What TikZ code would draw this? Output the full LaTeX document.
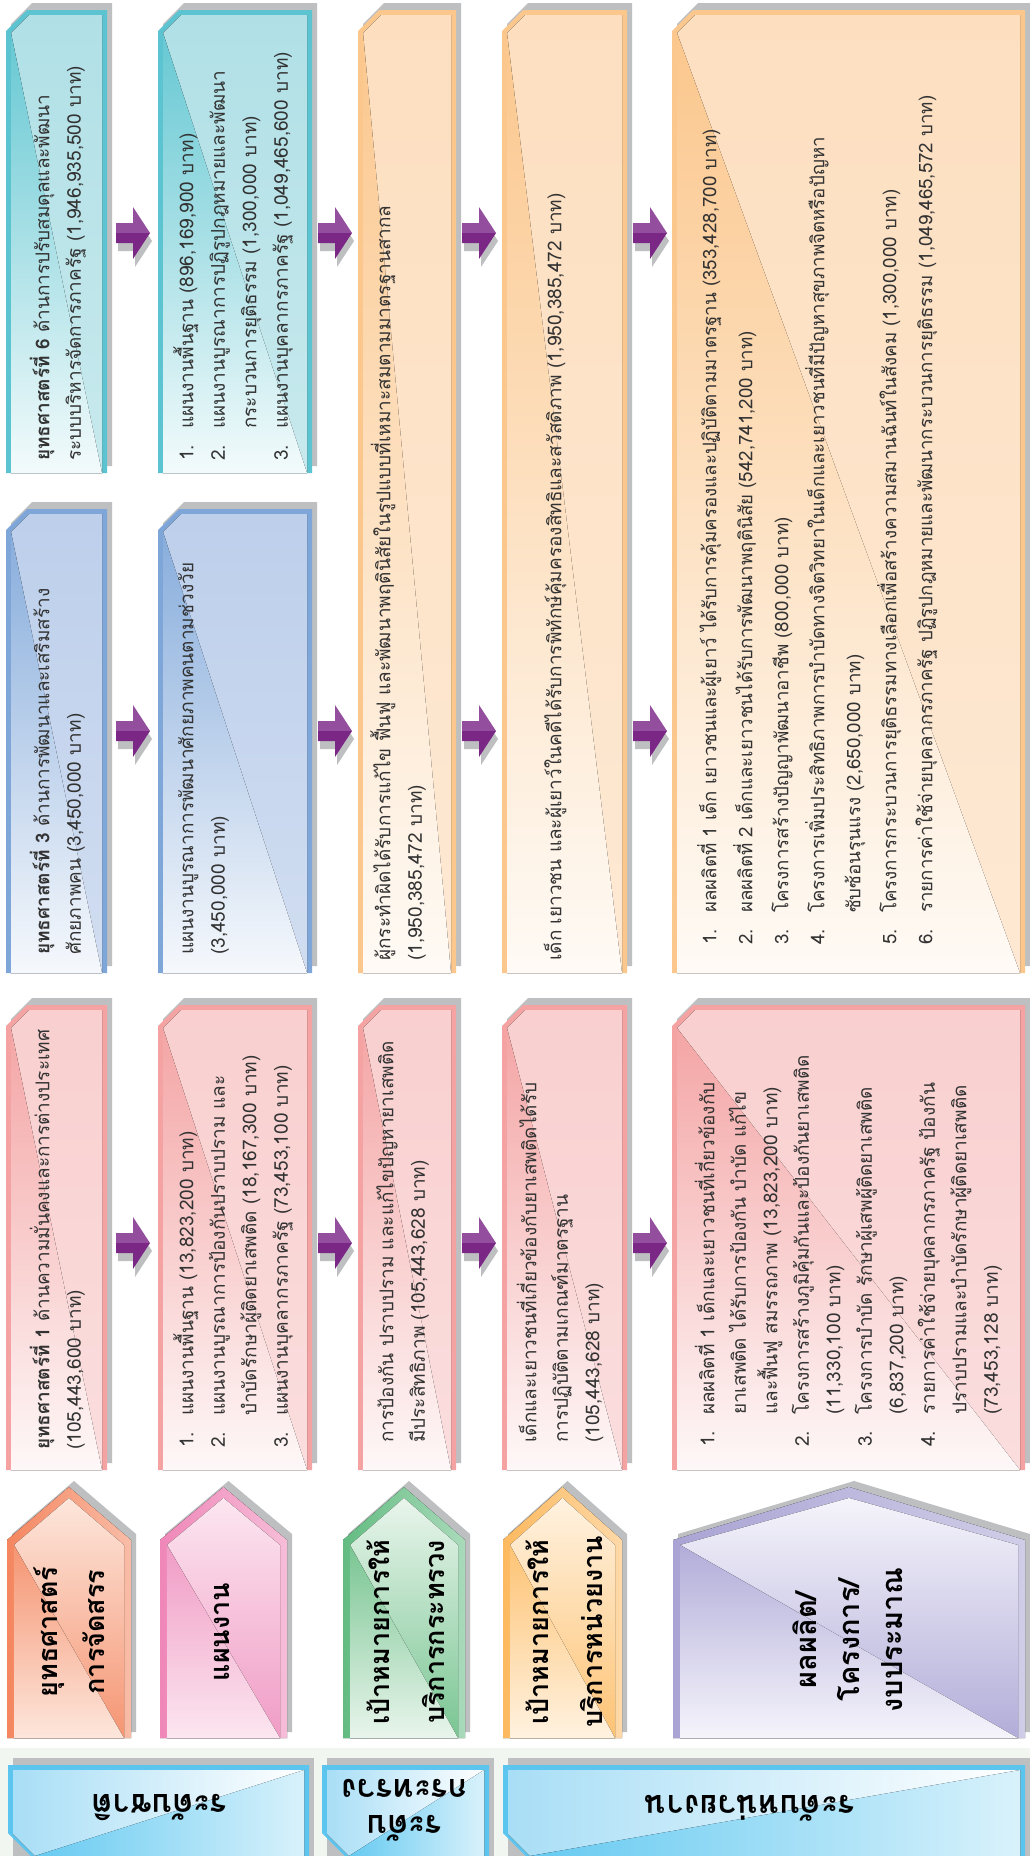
\documentclass[tikz,border=0pt]{standalone}
\usepackage{fontspec}
\newfontfamily\thai[Script=Thai]{Loma}
\definecolor{shd}{HTML}{BDBFC1}
\definecolor{txc}{HTML}{333333}
\definecolor{tealB}{HTML}{5CC4D0}
\definecolor{tealL}{HTML}{B0E0E6}
\definecolor{tealD}{HTML}{66C8D3}
\definecolor{blueB}{HTML}{7FA6D9}
\definecolor{blueL}{HTML}{BDCFEB}
\definecolor{blueD}{HTML}{88ADDC}
\definecolor{oraB}{HTML}{FBC78D}
\definecolor{oraL}{HTML}{FDDFC0}
\definecolor{oraD}{HTML}{FBC78D}
\definecolor{pinkB}{HTML}{F4A2A2}
\definecolor{pinkL}{HTML}{F9CFCF}
\definecolor{pinkD}{HTML}{F4A5A5}
\definecolor{arL}{HTML}{944E9E}
\definecolor{arD}{HTML}{7A2785}
\definecolor{lvB}{HTML}{5BC5EF}
\definecolor{lvL}{HTML}{A8DEF6}
\definecolor{lvD}{HTML}{66CAF1}
\definecolor{bgl}{HTML}{F2F6F1}
\definecolor{lAB}{HTML}{F4865F}\definecolor{lAL}{HTML}{FDE6DC}\definecolor{lAD}{HTML}{F59572}
\definecolor{lBB}{HTML}{EF87B8}\definecolor{lBL}{HTML}{FCE6F0}\definecolor{lBD}{HTML}{F09CC5}
\definecolor{lCB}{HTML}{63BC82}\definecolor{lCL}{HTML}{E9F5EC}\definecolor{lCD}{HTML}{79C592}
\definecolor{lDB}{HTML}{FDB95F}\definecolor{lDL}{HTML}{FFF2E0}\definecolor{lDD}{HTML}{FDC374}
\definecolor{lEB}{HTML}{A9A4D4}\definecolor{lEL}{HTML}{F5F4FB}\definecolor{lED}{HTML}{B2ADD9}

% content box: x0 x1 y0 y1 border light dark
\newcommand{\cbx}[7]{%
  \fill[shd] ({#1+5},{#3+14}) -- ({#1+26},{#3-7}) -- ({#2+5},{#3-7}) -- ({#2+5},{#4-7}) -- ({#1+5},{#4-7}) -- cycle;
  \fill[#5] (#1,{#3+21}) -- ({#1+21},#3) -- (#2,#3) -- (#2,#4) -- (#1,#4) -- cycle;
  \fill[top color=#6, bottom color=#6!70!white] ({#1+5},{#3+23}) -- ({#1+23},{#3+5}) -- ({#2-5},{#3+5}) -- ({#2-5},#4) -- ({#1+5},#4) -- cycle;
  \fill[top color=#7, bottom color=#7!8!white] ({#1+5},{#3+23}) -- ({#2-5},#4) -- ({#1+5},#4) -- cycle;
}
% left label pentagon: x0 x1 border light dark
\newcommand{\lbx}[5]{%
  \fill[shd] ({#1+5},1534) -- ({(#1+#2)/2+5},1481) -- ({#2+5},1534) -- ({#2+5},1732) -- ({#1+5},1732) -- cycle;
  \fill[left color=#3, right color=#3!55!white] (#1,1540) -- ({(#1+#2)/2},1487) -- (#2,1540) -- (#2,1738) -- (#1,1738) -- cycle;
  \fill[top color=#4, bottom color=#5] ({#1+7},1545) -- ({(#1+#2)/2},1498) -- ({#2-7},1545) -- ({#2-7},1738) -- ({#1+7},1738) -- cycle;
  \fill[top color=#5, bottom color=#4] ({#1+7},1545) -- ({#2-7},1738) -- ({#1+7},1738) -- cycle;
}
% level label: x0 x1
\newcommand{\lvx}[2]{%
  \fill[shd] ({#1+5},1758) -- ({#2+5},1758) -- ({#2+5},1856) -- ({#1+5},1856) -- cycle;
  \fill[lvB] (#1,1765) -- (#2,1765) -- (#2,1856) -- ({#1+23},1856) -- (#1,1833) -- cycle;
  \fill[left color=lvL, right color=white] ({#1+5},1770) -- ({#2-5},1770) -- ({#2-5},1856) -- ({#1+27},1856) -- ({#1+5},1834) -- cycle;
  \fill[left color=lvD, right color=lvD!25!white] ({#1+27},1856) -- ({#2-5},1770) -- ({#2-5},1856) -- cycle;
}
% arrow: x-left y-center
\newcommand{\arx}[2]{%
  \fill[shd] ({#1+2},{#2-2}) -- ({#1+19},{#2-2}) -- ({#1+19},{#2-18}) -- ({#1+36},{#2+8}) -- ({#1+19},{#2+34}) -- ({#1+19},{#2+18}) -- ({#1+2},{#2+18}) -- cycle;
  \fill[arL] (#1,{#2-10}) -- ({#1+17},{#2-10}) -- ({#1+17},{#2-26}) -- ({#1+34},#2) -- (#1,#2) -- cycle;
  \fill[arD] (#1,#2) -- ({#1+34},#2) -- ({#1+17},{#2+26}) -- ({#1+17},{#2+10}) -- (#1,{#2+10}) -- cycle;
}
\newcommand{\itm}[1]{\makebox[32pt][l]{#1}}
\newcommand{\itc}{\hspace*{32pt}}

\tikzset{
  tx/.style={rotate=90, anchor=north west, inner sep=0pt, text width=1000pt, align=left,
    font=\thai\fontsize{19}{31.5}\selectfont, text=txc},
  txw/.style={tx, font=\thai\fontsize{18.7}{36}\selectfont},
  lab/.style={rotate=90, anchor=center, inner sep=0pt, align=center,
    font=\thai\bfseries\fontsize{27}{47}\selectfont, text=black},
  lev/.style={rotate=180, anchor=center, inner sep=0pt, align=center,
    font=\thai\bfseries\fontsize{32}{36}\selectfont, text=black},
}

\begin{document}
\begin{tikzpicture}[x=1pt,y=-1pt]
\useasboundingbox (0,0) rectangle (1030,1856);
\fill[white] (0,0) rectangle (1030,1856);
\fill[bgl] (0,1748) rectangle (1030,1856);

% strip A
\cbx{6}{107}{10}{473}{tealB}{tealL}{tealD}
\cbx{6}{107}{509}{973}{blueB}{blueL}{blueD}
\cbx{6}{107}{1005}{1470}{pinkB}{pinkL}{pinkD}
% strip B
\cbx{158}{312}{10}{473}{tealB}{tealL}{tealD}
\cbx{158}{312}{509}{973}{blueB}{blueL}{blueD}
\cbx{158}{312}{1005}{1470}{pinkB}{pinkL}{pinkD}
% strip C
\cbx{358}{456}{10}{973}{oraB}{oraL}{oraD}
\cbx{358}{456}{1005}{1470}{pinkB}{pinkL}{pinkD}
% strip D
\cbx{502}{627}{10}{973}{oraB}{oraL}{oraD}
\cbx{502}{627}{1005}{1470}{pinkB}{pinkL}{pinkD}
% strip E
\cbx{672}{1025}{10}{973}{oraB}{oraL}{oraD}
\cbx{672}{1025}{1005}{1470}{pinkB}{pinkL}{pinkD}

% arrows
\foreach \xa in {116,318,462,633}{
  \arx{\xa}{233}
  \arx{\xa}{731}
  \arx{\xa}{1243}
}

% left labels
\lbx{7}{131}{lAB}{lAL}{lAD}
\lbx{160}{287}{lBB}{lBL}{lBD}
\lbx{343}{465}{lCB}{lCL}{lCD}
\lbx{503}{622}{lDB}{lDL}{lDD}
\lbx{673}{1025}{lEB}{lEL}{lED}

% level labels
\lvx{8}{309}
\lvx{322}{489}
\lvx{503}{1025}

% texts strip A
\node[tx] (a3) at (27,461) {\strut\textbf{ยุทธศาสตร์ที่ 6} ด้านการปรับสมดุลและพัฒนา\\ระบบบริหารจัดการภาครัฐ (1,946,935,500 บาท)};
\node[tx] (a2) at (27,955) {\strut\textbf{ยุทธศาสตร์ที่ 3} ด้านการพัฒนาและเสริมสร้าง\\ศักยภาพคน (3,450,000 บาท)};
\node[tx] (a1) at (27,1450) {\strut\textbf{ยุทธศาสตร์ที่ 1} ด้านความมั่นคงและการต่างประเทศ\\(105,443,600 บาท)};
% strip B
\node[tx] (b3) at (171,461) {\strut\itm{1.}แผนงานพื้นฐาน (896,169,900 บาท)\\\itm{2.}แผนงานบูรณาการปฏิรูปกฎหมายและพัฒนา\\\itc กระบวนการยุติธรรม (1,300,000 บาท)\\\itm{3.}แผนงานบุคลากรภาครัฐ (1,049,465,600 บาท)};
\node[tx] (b2) at (171,955) {\strut แผนงานบูรณาการพัฒนาศักยภาพคนตามช่วงวัย\\(3,450,000 บาท)};
\node[tx] (b1) at (171,1448) {\strut\itm{1.}แผนงานพื้นฐาน (13,823,200 บาท)\\\itm{2.}แผนงานบูรณาการป้องกันปราบปราม และ\\\itc บำบัดรักษาผู้ติดยาเสพติด (18,167,300 บาท)\\\itm{3.}แผนงานบุคลากรภาครัฐ (73,453,100 บาท)};
% strip C
\node[tx] (c2) at (368,961) {\strut ผู้กระทำผิดได้รับการแก้ไข ฟื้นฟู และพัฒนาพฤตินิสัยในรูปแบบที่เหมาะสมตามมาตรฐานสากล\\(1,950,385,472 บาท)};
\node[tx] (c1) at (371,1443) {\strut การป้องกัน ปราบปราม และแก้ไขปัญหายาเสพติด\\มีประสิทธิภาพ (105,443,628 บาท)};
% strip D
\node[tx] (d2) at (539,961) {\strut เด็ก เยาวชน และผู้เยาว์ในคดีได้รับการพิทักษ์คุ้มครองสิทธิและสวัสดิภาพ (1,950,385,472 บาท)};
\node[tx] (d1) at (514,1443) {\strut เด็กและเยาวชนที่เกี่ยวข้องกับยาเสพติดได้รับ\\การปฏิบัติตามเกณฑ์มาตรฐาน\\(105,443,628 บาท)};
% strip E
\node[txw] (e2) at (691,945) {\strut\itm{1.}ผลผลิตที่ 1 เด็ก เยาวชนและผู้เยาว์ ได้รับการคุ้มครองและปฏิบัติตามมาตรฐาน (353,428,700 บาท)\\
\itm{2.}ผลผลิตที่ 2 เด็กและเยาวชนได้รับการพัฒนาพฤตินิสัย (542,741,200 บาท)\\
\itm{3.}โครงการสร้างปัญญาพัฒนาอาชีพ (800,000 บาท)\\
\itm{4.}โครงการเพิ่มประสิทธิภาพการบำบัดทางจิตวิทยาในเด็กและเยาวชนที่มีปัญหาสุขภาพจิตหรือปัญหา\\
\itc ซับซ้อนรุนแรง (2,650,000 บาท)\\
\itm{5.}โครงการกระบวนการยุติธรรมทางเลือกเพื่อสร้างความสมานฉันท์ในสังคม (1,300,000 บาท)\\
\itm{6.}รายการค่าใช้จ่ายบุคลากรภาครัฐ ปฏิรูปกฎหมายและพัฒนากระบวนการยุติธรรม (1,049,465,572 บาท)};
\node[tx] (e1) at (692,1447) {\strut\itm{1.}ผลผลิตที่ 1 เด็กและเยาวชนที่เกี่ยวข้องกับ\\
\itc ยาเสพติด ได้รับการป้องกัน บำบัด แก้ไข\\
\itc และฟื้นฟู สมรรถภาพ (13,823,200 บาท)\\
\itm{2.}โครงการสร้างภูมิคุ้มกันและป้องกันยาเสพติด\\
\itc (11,330,100 บาท)\\
\itm{3.}โครงการบำบัด รักษาผู้เสพผู้ติดยาเสพติด\\
\itc (6,837,200 บาท)\\
\itm{4.}รายการค่าใช้จ่ายบุคลากรภาครัฐ ป้องกัน\\
\itc ปราบปรามและบำบัดรักษาผู้ติดยาเสพติด\\
\itc (73,453,128 บาท)};

% label texts
\node[lab] (sA) at (69,1632) {ยุทธศาสตร์\\การจัดสรร};
\node[lab] (sB) at (222,1632) {แผนงาน};
\node[lab, font=\thai\bfseries\fontsize{27}{55}\selectfont] (sC) at (406,1632) {เป้าหมายการให้\\บริการกระทรวง};
\node[lab, font=\thai\bfseries\fontsize{27}{54}\selectfont] (sD) at (564,1632) {เป้าหมายการให้\\บริการหน่วยงาน};
\node[lab, font=\thai\bfseries\fontsize{29}{43}\selectfont] (sE) at (848,1640) {ผลผลิต/\\โครงการ/\\งบประมาณ};

% level texts
\node[lev] (v1) at (160,1808) {ระดับชาติ};
\node[lev] (v2) at (405,1810) {ระดับ\\กระทรวง};
\node[lev] (v3) at (750,1808) {ระดับหน่วยงาน};
\end{tikzpicture}
\end{document}
